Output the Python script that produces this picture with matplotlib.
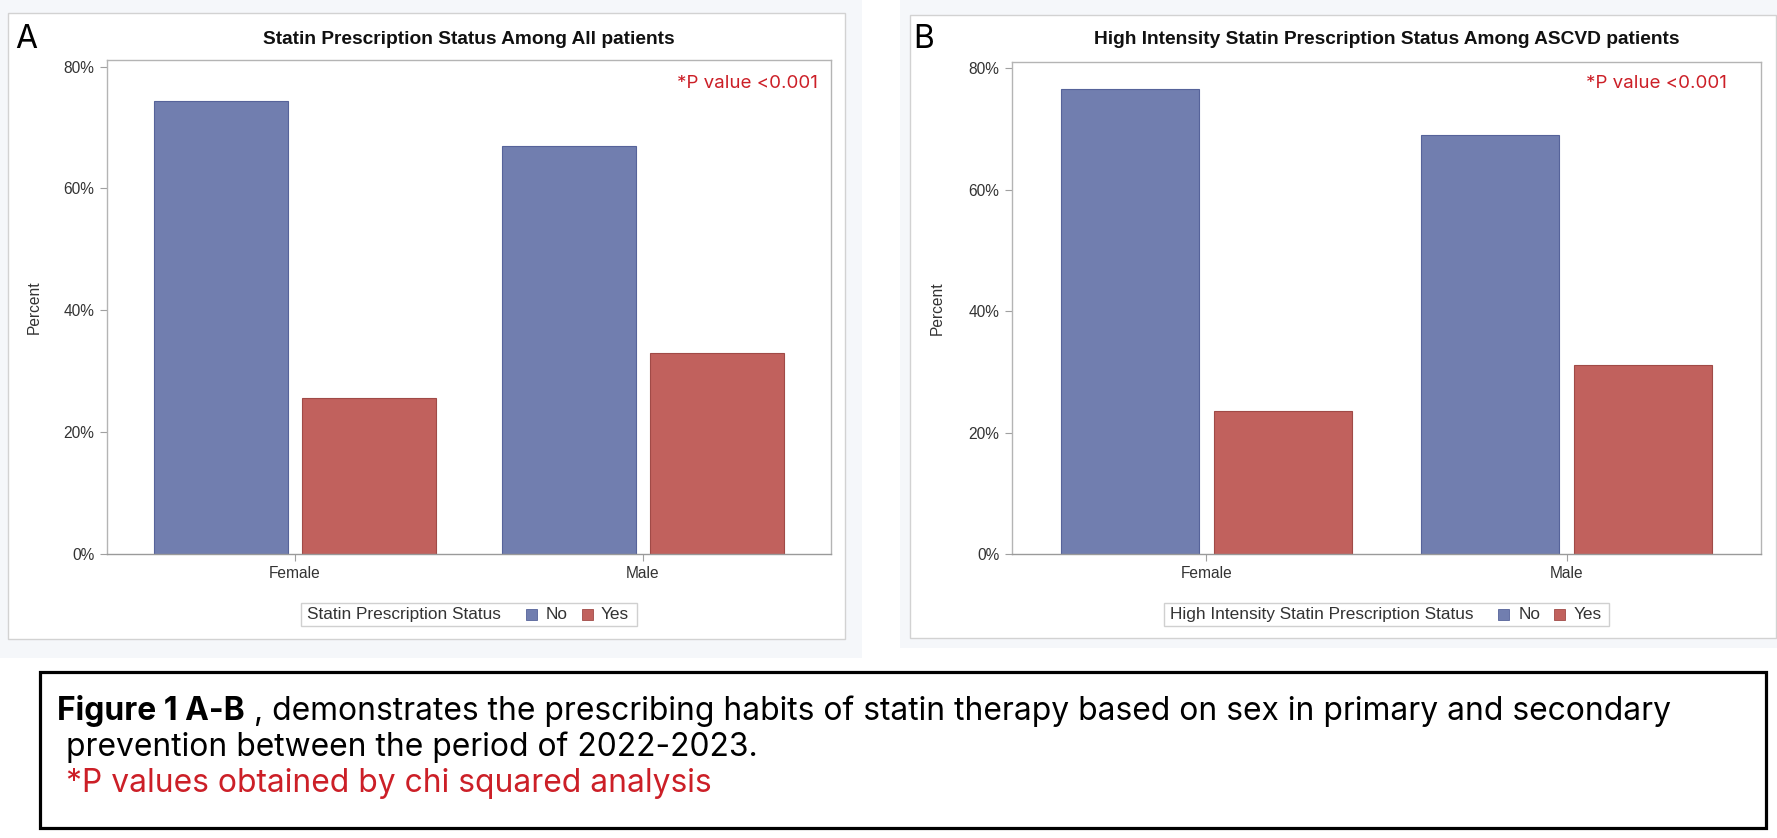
import matplotlib
matplotlib.use('Agg')
import matplotlib.pyplot as plt
from matplotlib.patches import Rectangle
import numpy as np

# figure size in pixels (dpi 100)
W, H = 1777, 838

# data (percent within each sex)
sexes = ['Female', 'Male']
status = ['No', 'Yes']
all_no = [74.4, 67.0]
all_yes = [25.6, 33.0]
ascvd_no = [76.5, 68.9]
ascvd_yes = [23.5, 31.1]
yticks = [0, 20, 40, 60, 80]
ytick_labels = ['0%', '20%', '40%', '60%', '80%']

titles = ['Statin Prescription Status Among All patients',
          'High Intensity Statin Prescription Status Among ASCVD patients']
legend_titles = ['Statin Prescription Status',
                 'High Intensity Statin Prescription Status']
letters = ['A', 'B']
pval = '*P value <0.001'
cap_bold = 'Figure 1 A-B'
cap_rest = ' , demonstrates the prescribing habits of statin therapy based on sex in primary and secondary'
cap_line2 = ' prevention between the period of 2022-2023.'
cap_line3 = ' *P values obtained by chi squared analysis'

c_no, e_no = '#717EAF', '#56639A'
c_yes, e_yes = '#C1615D', '#A04A47'
red = '#CC1F27'
sas_font = 'Liberation Sans'
ppt_font = 'Inter'


def fx(x):
    return x / W


def fy(y):
    return 1 - y / H


def box(x0, y0, x1, y1, **kw):
    r = Rectangle((fx(x0), fy(y1)), (x1 - x0) / W, (y1 - y0) / H,
                  transform=fig.transFigure, **kw)
    fig.add_artist(r)
    return r


fig = plt.figure(figsize=(W / 100, H / 100), dpi=100)
fig.patch.set_facecolor('white')
renderer = fig.canvas.get_renderer()

# panel backgrounds and frames
box(0, 0, 862, 658, facecolor='#f5f7fa', edgecolor='none', zorder=0)
box(900, 0, 1777, 648, facecolor='#f5f7fa', edgecolor='none', zorder=0)
box(8, 13, 845, 639, facecolor='white', edgecolor='#d2d2d2', lw=1, zorder=0.5)
box(910, 15, 1776, 638, facecolor='white', edgecolor='#d2d2d2', lw=1, zorder=0.5)

# plot areas (pixels): left, top, right, bottom
panels = [
    dict(area=(107, 60.5, 831, 553.5), no=all_no, yes=all_yes, ylab_x=34,
         letter_x=15, pval_cx=747),
    dict(area=(1012, 62, 1761, 554), no=ascvd_no, yes=ascvd_yes, ylab_x=937,
         letter_x=913, pval_cx=1656),
]


def draw_legend(cx, cy, title):
    kw = dict(fontsize=12.4, color='#333333', va='center', family=sas_font, zorder=5)
    t0 = fig.text(0, fy(cy), title, **kw)
    t1 = fig.text(0, fy(cy), status[0], **kw)
    t2 = fig.text(0, fy(cy), status[1], **kw)
    w0, w1, w2 = [t.get_window_extent(renderer).width for t in (t0, t1, t2)]
    sq = 11
    total = 6 + w0 + 25 + sq + 9 + w1 + 14 + sq + 8 + w2 + 8
    left = cx - total / 2
    box(left, cy - 11.5, left + total, cy + 11.5, facecolor='white',
        edgecolor='#d0d0d0', lw=1, zorder=4)
    x = left + 6
    t0.set_x(fx(x))
    x += w0 + 25
    box(x, cy - sq / 2, x + sq, cy + sq / 2, facecolor=c_no, edgecolor=e_no, lw=0.6, zorder=5)
    x += sq + 9
    t1.set_x(fx(x))
    x += w1 + 14
    box(x, cy - sq / 2, x + sq, cy + sq / 2, facecolor=c_yes, edgecolor=e_yes, lw=0.6, zorder=5)
    x += sq + 8
    t2.set_x(fx(x))


for i, p in enumerate(panels):
    l, t, r, b = p['area']
    ax = fig.add_axes([fx(l), fy(b), (r - l) / W, (b - t) / H])
    ax.set_zorder(2)
    x = np.arange(len(sexes))
    ax.bar(x - 0.2125, p['no'], width=0.385, color=c_no, edgecolor=e_no, lw=0.8)
    ax.bar(x + 0.2125, p['yes'], width=0.385, color=c_yes, edgecolor=e_yes, lw=0.8)
    ax.set_xlim(-0.54, 1.54)
    ax.set_ylim(0, 81)
    ax.set_xticks(x)
    ax.set_xticklabels(sexes)
    ax.set_yticks(yticks)
    ax.set_yticklabels(ytick_labels)
    for s in ax.spines.values():
        s.set_color('#b4b4b4')
        s.set_linewidth(1)
    ax.spines['bottom'].set_color('#9a9a9a')
    ax.tick_params(axis='both', colors='#a0a0a0', labelcolor='#333333',
                   labelsize=11.2, length=5, width=0.8, pad=4)
    for lab in ax.get_xticklabels() + ax.get_yticklabels():
        lab.set_family(sas_font)

    cx = (l + r) / 2
    fig.text(fx(cx), fy(40), titles[i], ha='center', va='center',
             fontsize=13.8, fontweight='bold', family=sas_font, color='#111111')
    fig.text(fx(p['ylab_x']), fy((t + b) / 2), 'Percent', rotation=90,
             ha='center', va='center', fontsize=11.2, family=sas_font, color='#333333')
    fig.text(fx(p['letter_x']), fy(40), letters[i], ha='left', va='center',
             fontsize=23, family=ppt_font, color='black')
    fig.text(fx(p['pval_cx']), fy(83), pval, ha='center', va='center',
             fontsize=13.5, family=ppt_font, color=red, zorder=5)
    draw_legend(cx, 614.5, legend_titles[i])

# caption box
box(40, 672, 1766, 828, facecolor='none', edgecolor='black', lw=2.3, zorder=3)
cap_size = 22.9
tb = fig.text(fx(57), fy(720), cap_bold, fontsize=cap_size, fontweight='bold',
              family=ppt_font, va='baseline', color='black')
wb = tb.get_window_extent(renderer).width
fig.text(fx(57 + wb), fy(720), cap_rest, fontsize=cap_size, family=ppt_font,
         va='baseline', color='black')
fig.text(fx(57), fy(756), cap_line2, fontsize=cap_size, family=ppt_font,
         va='baseline', color='black')
fig.text(fx(57), fy(792), cap_line3, fontsize=cap_size, family=ppt_font,
         va='baseline', color=red)

fig.savefig('out.png', dpi=100)
